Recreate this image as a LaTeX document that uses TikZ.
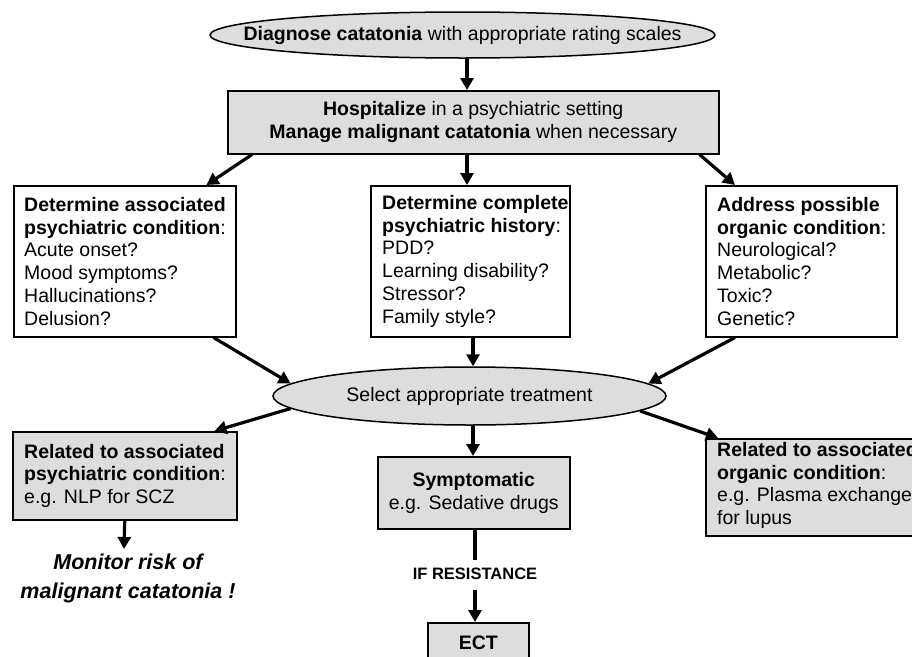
\documentclass[tikz,border=0pt]{standalone}
\usepackage{fontspec}
\setmainfont{Liberation Sans}
\usetikzlibrary{arrows.meta,shapes.geometric,calc}
\definecolor{boxgray}{RGB}{221,221,221}
\begin{document}
\begin{tikzpicture}[x=1pt,y=-1pt,
  body/.style={font=\fontsize{19.5}{22.8}\selectfont},
  box/.style={draw, line width=1.5pt, inner sep=0pt, anchor=north west, body},
  gbox/.style={box, fill=boxgray},
  txt/.style={anchor=west, align=left, inner sep=0pt, body},
  arr/.style={line width=3.2pt, -{Triangle[length=12pt,width=13pt]}},
  plain/.style={line width=3.2pt},
  oval/.style={ellipse, draw, line width=1.5pt, fill=boxgray, inner sep=0pt, body}]
\useasboundingbox (0,0) rectangle (912,656);
\clip (0,0) rectangle (912,656);
\fill[white] (0,0) rectangle (912,656);

% top
\node[oval, minimum width=505, minimum height=46] (diag) at (462.5,35) {};
\node[body, inner sep=0pt] (diagt) at (diag.center)
  {\textbf{Diagnose catatonia} with appropriate rating scales};
\node[gbox, minimum width=491, minimum height=63, align=center] (hosp) at (227,90)
  {\textbf{Hospitalize} in a psychiatric setting\\\textbf{Manage malignant catatonia} when necessary};

% second row
\node[box, minimum width=222, minimum height=151] (pc) at (13,185) {};
\node[txt] (pct) at ($(pc.west)+(11,0)$)
  {\textbf{Determine associated}\\\textbf{psychiatric condition}:\\Acute onset?\\Mood symptoms?\\Hallucinations?\\Delusion?};
\node[box, minimum width=199, minimum height=151] (ph) at (370,185) {};
\node[txt] (pht) at ($(ph.west)+(12,0)$)
  {\textbf{Determine complete}\\\textbf{psychiatric history}:\\PDD?\\Learning disability?\\Stressor?\\Family style?};
\node[box, minimum width=191, minimum height=151] (oc) at (705,185) {};
\node[txt] (oct) at ($(oc.west)+(12,0)$)
  {\textbf{Address possible}\\\textbf{organic condition}:\\Neurological?\\Metabolic?\\Toxic?\\Genetic?};

% select
\node[oval, minimum width=393, minimum height=58] (sel) at (469.5,396) {Select appropriate treatment};

% bottom row
\node[gbox, minimum width=224, minimum height=88] (rp) at (12,431) {};
\node[txt] (rpt) at ($(rp.west)+(12,0)$)
  {\textbf{Related to associated}\\\textbf{psychiatric condition}:\\e.g. NLP for SCZ};
\node[gbox, minimum width=192, minimum height=72, align=center] (sym) at (377,456)
  {\textbf{Symptomatic}\\e.g. Sedative drugs};
\node[gbox, minimum width=215, minimum height=97] (ro) at (705,438) {};
\node[txt, anchor=north west] (rot) at ($(ro.north west)+(12,4)$)
  {\textbf{Related to associated}\\\textbf{organic condition}:\\e.g. Plasma exchanges\\for lupus};

\node[font=\bfseries\itshape\fontsize{21.5}{29}\selectfont, align=center, inner sep=0pt] (mon) at (128,578)
  {Monitor risk of\\malignant catatonia !};
\coordinate (monTop) at (124,549);
\node[font=\bfseries\fontsize{16.5}{19}\selectfont, inner sep=0pt] (ifr) at (475,574) {IF RESISTANCE};
\node[gbox, minimum width=101, minimum height=40, align=center, font=\bfseries\fontsize{19.5}{22.8}\selectfont] (ect) at (427,622) {ECT};

% connectors
\draw[arr] (467,58) coordinate (d0) -- (d0 |- hosp.north);
\draw[arr] ($(hosp.south west)+(25,0)$) -- ($(pc.north east)+(-30,0)$);
\draw[arr] ($(hosp.south west)+(240,0)$) coordinate (h1) -- (h1 |- ph.north);
\draw[arr] ($(hosp.south east)+(-20,0)$) -- ($(oc.north west)+(30,0)$);

\draw[arr] ($(pc.south east)+(-23,0)$) -- (sel.176);
\draw[arr] ($(ph.south west)+(103,0)$) coordinate (p1) -- (p1 |- sel.north);
\draw[arr] ($(oc.south west)+(30,0)$) -- (sel.4);

\draw[arr] (sel.184.3) -- ($(rp.north east)+(-23,0)$);
\draw[arr] (sel.south -| p1) -- (p1 |- sym.north);
\draw[arr] (sel.-5.5) -- ($(ro.north west)+(13,0)$);

\draw[arr] (rp.south) -- (monTop);
\draw[plain] (sym.south -| ifr) -- ++(0,30);
\draw[arr] (ifr.center |- 0,590) -- (ifr.center |- ect.north);
\end{tikzpicture}
\end{document}
